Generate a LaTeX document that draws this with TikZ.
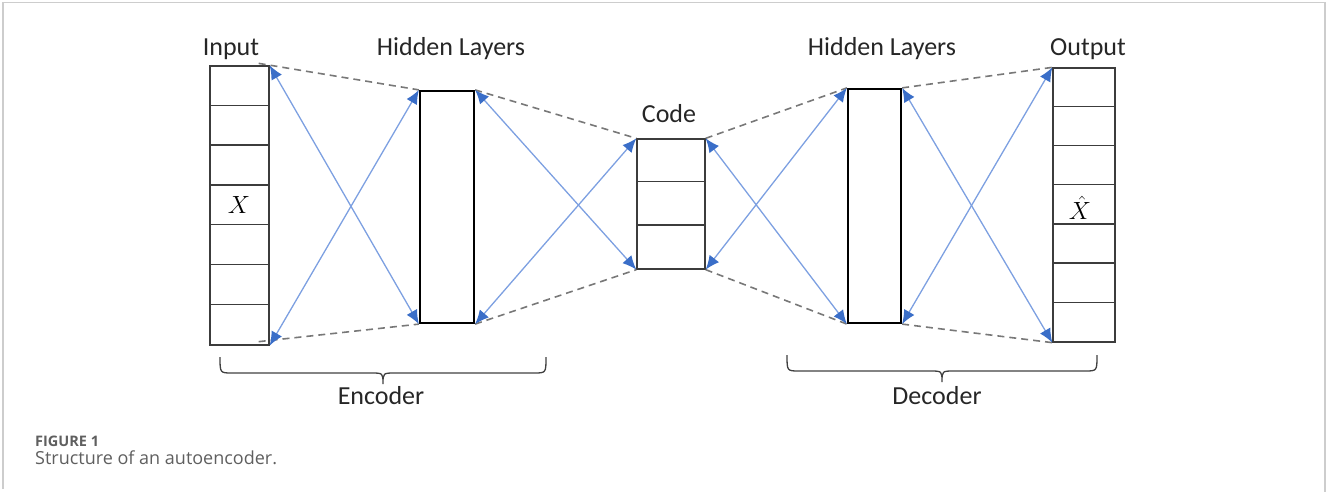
\documentclass[tikz,border=0pt]{standalone}
\usepackage{fontspec}
\setmainfont{Carlito}
\newfontfamily\capfont{Open Sans}
\usetikzlibrary{arrows.meta,calc}
\definecolor{linecol}{RGB}{125,160,225}
\definecolor{arrcol}{RGB}{58,110,200}
\definecolor{dashcol}{RGB}{120,120,120}
\definecolor{boxcol}{RGB}{60,60,60}
\definecolor{framecol}{RGB}{205,205,205}
\definecolor{capgray}{RGB}{95,95,95}
\tikzset{
  cellbox/.style={draw=boxcol, line width=1.3pt, minimum width=#1, inner sep=0pt},
  hidbox/.style={draw=black, line width=2.2pt, inner sep=0pt},
  lbl/.style={font=\fontsize{26}{30}\selectfont, anchor=base, text=black!85},
  link/.style={draw=linecol, line width=1.3pt,
    {Latex[length=14pt,width=12pt,color=arrcol]}-{Latex[length=14pt,width=12pt,color=arrcol]}},
  dashlink/.style={draw=dashcol, line width=1.6pt, dash pattern=on 7pt off 5pt},
  divider/.style={draw=boxcol, line width=1.3pt},
  bracestyle/.style={draw=black!75, line width=1.3pt}
}
\begin{document}
\begin{tikzpicture}[x=1pt,y=-1pt]
\useasboundingbox (0,0) rectangle (1327,492);
% page frame
\draw[framecol, line width=1.6pt] (3,489) -- (3,2.5) -- (1325,2.5) -- (1325,492);

% boxes
\node[cellbox=59pt, minimum height=279pt] (inp) at (239.5,205.5) {};
\node[hidbox, minimum width=54pt, minimum height=232pt] (h1) at (447,207) {};
\node[cellbox=68pt, minimum height=130pt] (code) at (671,204) {};
\node[hidbox, minimum width=53pt, minimum height=234pt] (h2) at (874.5,206) {};
\node[cellbox=62pt, minimum height=274pt] (out) at (1084,205) {};

% dividers
\foreach \i in {1,...,6} {
  \draw[divider] ($(inp.north west)+(0,\i*39.857)$) -- ($(inp.north east)+(0,\i*39.857)$);
  \draw[divider] ($(out.north west)+(0,\i*39.143)$) -- ($(out.north east)+(0,\i*39.143)$);
}
\foreach \i in {1,2} {
  \draw[divider] ($(code.north west)+(0,\i*43.333)$) -- ($(code.north east)+(0,\i*43.333)$);
}

% cell labels
\node[font=\fontsize{24}{28}\selectfont, inner sep=0pt] (xin) at (239,205) {$X$};
\node[font=\fontsize{24}{28}\selectfont, inner sep=0pt] (xout) at (1080,208) {$\hat{X}$};

% titles
\node[lbl] (tin) at (231,56) {Input};
\node[lbl] (th1) at (451,56) {Hidden Layers};
\node[lbl] (tcode) at (669,123) {Code};
\node[lbl] (th2) at (882,56) {Hidden Layers};
\node[lbl] (tout) at (1088,56) {Output};

% dashed outlines
\draw[dashlink] ($(inp.north east)+(-11,-2)$) -- (h1.north west);
\draw[dashlink] ($(inp.south east)+(-11,-4)$) -- (h1.south west);
\draw[dashlink] (h1.north east) -- (code.north west);
\draw[dashlink] (h1.south east) -- (code.south west);
\draw[dashlink] (code.north east) -- (h2.north west);
\draw[dashlink] (code.south east) -- (h2.south west);
\draw[dashlink] (h2.north east) -- (out.north west);
\draw[dashlink] (h2.south east) -- (out.south west);

% blue double arrows
\draw[link] (inp.north east) -- (h1.south west);
\draw[link] (inp.south east) -- (h1.north west);
\draw[link] (h1.north east) -- (code.south west);
\draw[link] (h1.south east) -- (code.north west);
\draw[link] (code.north east) -- (h2.south west);
\draw[link] (code.south east) -- (h2.north west);
\draw[link] (h2.north east) -- (out.south west);
\draw[link] (h2.south east) -- (out.north west);

% braces
\coordinate (encl) at (220,357);
\coordinate (encr) at (546,357);
\coordinate (encm) at (383,384);
\draw[bracestyle] (encl) .. controls (220,373) .. (232,373) -- (371,373)
  .. controls (383,373) .. (encm) .. controls (383,373) .. (395,373) -- (534,373)
  .. controls (546,373) .. (encr);
\coordinate (decl) at (787,355);
\coordinate (decr) at (1097,355);
\coordinate (decm) at (942,382);
\draw[bracestyle] (decl) .. controls (787,371) .. (799,371) -- (930,371)
  .. controls (942,371) .. (decm) .. controls (942,371) .. (954,371) -- (1085,371)
  .. controls (1097,371) .. (decr);
\node[lbl] (tenc) at (381,404) {Encoder};
\node[lbl] (tdec) at (937,404) {Decoder};

% caption
\node[anchor=base west, inner sep=0pt, text=capgray, font=\capfont\bfseries\fontsize{14.5}{17}\selectfont] (fig) at (35,446) {FIGURE 1};
\node[anchor=base west, inner sep=0pt, text=capgray, font=\capfont\fontsize{18}{22}\selectfont] (cap) at (35,464) {Structure of an autoencoder.};
\end{tikzpicture}
\end{document}
